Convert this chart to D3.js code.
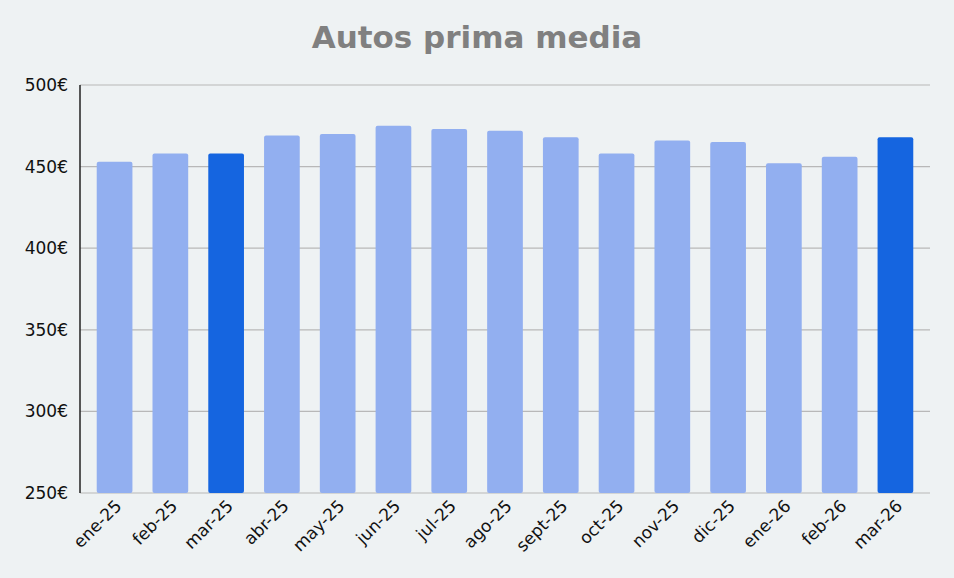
<!DOCTYPE html>
<html>
<head>
<meta charset="utf-8">
<script src="https://cdn.jsdelivr.net/npm/d3@7"></script>
<style>
  body { margin: 0; background: #eef2f3; }
  svg { font-family: "DejaVu Sans", Verdana, sans-serif; }
</style>
</head>
<body>
<svg id="chart" width="954" height="578"></svg>
<script>
// data
const months = ["ene-25","feb-25","mar-25","abr-25","may-25","jun-25","jul-25","ago-25","sept-25","oct-25","nov-25","dic-25","ene-26","feb-26","mar-26"];
const primas = [453, 458, 458, 469, 470, 475, 473, 472, 468, 458, 466, 465, 452, 456, 468];
const highlighted = ["mar-25", "mar-26"];
const yTicks = [250, 300, 350, 400, 450, 500];

const svg = d3.select("#chart");
const margin = {top: 85, right: 24, bottom: 85, left: 80};
const width = 954 - margin.left - margin.right;
const height = 578 - margin.top - margin.bottom;

svg.append("rect").attr("width", 954).attr("height", 578).attr("fill", "#eef2f3");

svg.append("text")
    .attr("x", 477).attr("y", 48)
    .attr("text-anchor", "middle")
    .attr("font-size", 31).attr("font-weight", "bold")
    .attr("fill", "#808080")
    .text("Autos prima media");

const g = svg.append("g").attr("transform", `translate(${margin.left},${margin.top})`);

let x = d3.scaleBand().domain(months).range([0, width]).paddingInner(0.36).paddingOuter(0.3);
let y = d3.scaleLinear().domain([250, 500]).range([height, 0]);

// gridlines
g.selectAll(".grid").data(yTicks).enter().append("line")
    .attr("x1", 0).attr("x2", width)
    .attr("y1", d => y(d)).attr("y2", d => y(d))
    .attr("stroke", "#b8b8b8").attr("stroke-width", 1.2);

g.selectAll(".bar").data(months).enter().append("rect")
    .attr("x", d => x(d))
    .attr("y", (d, i) => y(primas[i]))
    .attr("width", x.bandwidth())
    .attr("height", (d, i) => height - y(primas[i]))
    .attr("rx", 2)
    .attr("fill", d => highlighted.includes(d) ? "#1565e0" : "#92aff0");

// y axis
g.append("line").attr("x1", 0).attr("x2", 0).attr("y1", 0).attr("y2", height)
    .attr("stroke", "#222").attr("stroke-width", 1.5);
g.selectAll(".ylab").data(yTicks).enter().append("text")
    .attr("x", -12).attr("y", d => y(d)).attr("dy", "0.35em")
    .attr("text-anchor", "end").attr("font-size", 17).attr("fill", "#111")
    .text(d => d + "€");

// x labels
g.selectAll(".xlab").data(months).enter().append("text")
    .attr("transform", d => `translate(${x(d) + x.bandwidth() / 2 + 8},${height + 14}) rotate(-45)`)
    .attr("text-anchor", "end").attr("font-size", 17).attr("fill", "#111")
    .text(d => d);
</script>
</body>
</html>
